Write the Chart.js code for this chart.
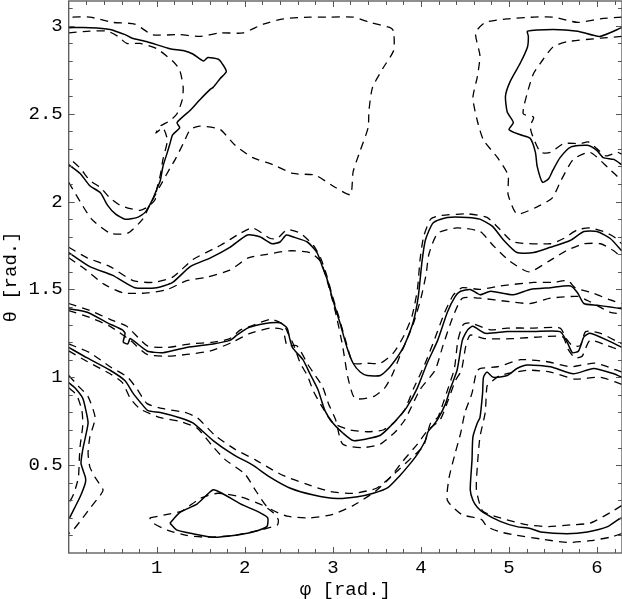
<!DOCTYPE html>
<html>
<head>
<meta charset="utf-8">
<script src="https://cdn.jsdelivr.net/npm/chart.js@4.4.0/dist/chart.umd.min.js"></script>
<style>
html,body{margin:0;padding:0;background:#fff;}
#wrap{width:622px;height:599px;}
</style>
</head>
<body>
<div id="wrap"><canvas id="c" width="622" height="599"></canvas></div>
<script>
// ---- axis ticks ----
const xTickValues = [1, 2, 3, 4, 5, 6];
const yTickValues = [0.5, 1, 1.5, 2, 2.5, 3];
const xTitle = "φ [rad.]";
const yTitle = "θ [rad.]";

// ---- contour curves [phi, theta] ----
// top-left blob (solid) and its dashed neighbours
const solidTopLeft = [[0.00,2.21],[0.13,2.16],[0.24,2.09],[0.36,2.05],[0.44,1.98],[0.53,1.93],[0.64,1.90],[0.78,1.91],[0.87,1.94],[0.95,2.01],[1.00,2.07],[1.04,2.12],[1.07,2.20],[1.12,2.28],[1.15,2.33],[1.18,2.38],[1.26,2.42],[1.23,2.45],[1.38,2.52],[1.49,2.58],[1.61,2.64],[1.64,2.65],[1.72,2.70],[1.79,2.74],[1.75,2.78],[1.70,2.81],[1.58,2.82],[1.53,2.80],[1.41,2.84],[1.30,2.86],[1.15,2.87],[0.89,2.91],[0.72,2.93],[0.64,2.95],[0.47,2.98],[0.24,2.99],[0.00,2.99]];
const dashInnerTopLeft = [[0.00,2.96],[0.24,2.97],[0.44,2.97],[0.56,2.94],[0.66,2.90],[0.81,2.90],[1.00,2.87],[1.18,2.80],[1.26,2.75],[1.30,2.65],[1.29,2.58],[1.23,2.50],[1.15,2.46],[1.04,2.43],[0.99,2.39],[1.07,2.42],[1.12,2.35],[1.07,2.24],[1.04,2.15],[1.00,2.07],[0.98,2.01],[0.90,1.97],[0.81,1.95],[0.70,1.96],[0.58,1.98],[0.47,2.02],[0.36,2.08],[0.24,2.12],[0.13,2.19],[0.00,2.25]];
const dashOuterTopLeft = [[0.00,2.11],[0.13,2.00],[0.26,1.90],[0.47,1.82],[0.67,1.82],[0.84,1.90],[0.92,1.98],[1.04,2.09],[1.15,2.19],[1.21,2.24],[1.31,2.34],[1.38,2.41],[1.49,2.43],[1.72,2.41],[1.89,2.32],[2.09,2.25],[2.32,2.21],[2.55,2.16],[2.80,2.15],[3.03,2.08],[3.20,2.04],[3.23,2.17],[3.31,2.29],[3.40,2.42],[3.41,2.52],[3.45,2.65],[3.57,2.76],[3.69,2.86],[3.69,2.97],[3.65,2.99],[3.42,3.02],[3.23,3.05],[2.97,3.05],[2.74,3.05],[2.44,3.04],[2.21,3.01],[1.98,2.96],[1.72,2.96],[1.49,2.94],[1.26,2.95],[0.95,2.95],[0.75,3.01],[0.50,3.02],[0.24,3.05],[0.00,3.05]];
// top-right blob
const solidTopRight = [[6.28,2.99],[6.03,2.94],[5.78,2.97],[5.50,2.98],[5.21,2.97],[5.22,2.94],[5.21,2.88],[5.13,2.79],[5.01,2.68],[4.96,2.60],[4.98,2.51],[5.05,2.45],[5.00,2.41],[5.13,2.38],[5.24,2.36],[5.30,2.28],[5.32,2.20],[5.38,2.11],[5.45,2.13],[5.50,2.18],[5.58,2.25],[5.70,2.31],[5.89,2.32],[6.00,2.29],[6.07,2.25],[6.19,2.24],[6.28,2.21]];
const dashInnerTopRight = [[6.28,2.94],[6.04,2.93],[5.66,2.91],[5.50,2.88],[5.36,2.79],[5.28,2.73],[5.22,2.64],[5.16,2.50],[5.28,2.48],[5.24,2.43],[5.27,2.37],[5.36,2.28],[5.47,2.28],[5.62,2.33],[5.81,2.33],[5.90,2.34],[6.00,2.30],[6.10,2.26],[6.23,2.28],[6.28,2.27]];
const dashOuterTopRight = [[6.28,3.05],[6.04,3.04],[5.78,3.02],[5.50,3.05],[5.28,3.05],[4.98,3.04],[4.73,3.02],[4.62,2.96],[4.67,2.83],[4.64,2.71],[4.59,2.59],[4.64,2.46],[4.71,2.35],[4.87,2.25],[4.99,2.15],[4.99,2.04],[5.09,1.93],[5.32,1.97],[5.49,2.02],[5.59,2.12],[5.73,2.24],[5.92,2.28],[6.13,2.19],[6.28,2.12]];
// upper band
const solidUpperBand = [[0.00,1.71],[0.24,1.63],[0.50,1.58],[0.75,1.51],[1.00,1.51],[1.18,1.54],[1.38,1.63],[1.61,1.68],[1.83,1.74],[2.03,1.81],[2.17,1.80],[2.31,1.76],[2.40,1.77],[2.47,1.81],[2.54,1.80],[2.71,1.77],[2.82,1.71],[2.88,1.63],[2.94,1.55],[3.00,1.44],[3.08,1.31],[3.16,1.17],[3.23,1.08],[3.31,1.03],[3.39,1.01],[3.54,1.01],[3.65,1.06],[3.80,1.17],[3.91,1.31],[3.97,1.46],[4.01,1.65],[4.05,1.78],[4.14,1.88],[4.30,1.91],[4.53,1.91],[4.67,1.90],[4.81,1.86],[4.94,1.78],[5.09,1.71],[5.28,1.71],[5.47,1.74],[5.70,1.78],[5.85,1.83],[6.00,1.83],[6.15,1.79],[6.28,1.72]];
const dashUpperBandA = [[0.00,1.74],[0.21,1.68],[0.47,1.63],[0.73,1.55],[0.96,1.54],[1.18,1.57],[1.41,1.67],[1.72,1.75],[1.95,1.82],[2.09,1.85],[2.29,1.79],[2.37,1.79],[2.48,1.84],[2.63,1.82],[2.78,1.75],[2.86,1.68],[2.93,1.58],[2.99,1.47],[3.07,1.34],[3.15,1.20],[3.23,1.08],[3.39,1.08],[3.54,1.08],[3.69,1.14],[3.81,1.24],[3.90,1.35],[3.96,1.50],[3.99,1.67],[4.03,1.80],[4.11,1.90],[4.22,1.92],[4.53,1.93],[4.75,1.91],[4.90,1.84],[5.05,1.77],[5.47,1.76],[5.62,1.79],[5.78,1.84],[5.92,1.85],[6.07,1.83],[6.19,1.80],[6.28,1.76]];
const dashUpperBandB = [[0.00,1.68],[0.20,1.61],[0.40,1.53],[0.62,1.48],[0.89,1.48],[1.12,1.50],[1.34,1.55],[1.57,1.57],[1.83,1.61],[2.04,1.68],[2.25,1.70],[2.51,1.72],[2.74,1.71],[2.86,1.66],[2.94,1.54],[3.03,1.37],[3.11,1.18],[3.17,1.00],[3.25,0.88],[3.46,0.89],[3.59,0.94],[3.67,1.01],[3.76,1.12],[3.91,1.30],[4.00,1.45],[4.06,1.59],[4.09,1.70],[4.19,1.82],[4.41,1.85],[4.67,1.83],[4.82,1.75],[5.01,1.66],[5.23,1.60],[5.45,1.66],[5.65,1.72],[5.85,1.76],[6.04,1.76],[6.19,1.72],[6.28,1.68]];
// middle band
const solidMiddleBand = [[0.00,1.39],[0.21,1.37],[0.44,1.31],[0.61,1.27],[0.64,1.25],[0.62,1.20],[0.67,1.19],[0.70,1.22],[0.89,1.15],[1.07,1.14],[1.34,1.17],[1.64,1.19],[1.83,1.21],[1.91,1.24],[2.03,1.28],[2.17,1.30],[2.29,1.31],[2.40,1.31],[2.48,1.28],[2.51,1.22],[2.54,1.17],[2.59,1.14],[2.66,1.10],[2.74,1.02],[2.83,0.93],[2.91,0.81],[3.00,0.74],[3.12,0.68],[3.23,0.64],[3.39,0.65],[3.54,0.67],[3.65,0.72],[3.76,0.78],[3.84,0.83],[3.96,0.94],[4.07,1.08],[4.19,1.21],[4.30,1.37],[4.39,1.46],[4.45,1.49],[4.56,1.50],[4.67,1.47],[4.79,1.49],[5.05,1.47],[5.24,1.50],[5.47,1.51],[5.70,1.52],[5.78,1.48],[5.85,1.42],[6.00,1.41],[6.15,1.40],[6.28,1.39]];
const dashMiddleBandA = [[0.00,1.42],[0.24,1.38],[0.47,1.33],[0.66,1.29],[0.89,1.18],[1.12,1.17],[1.38,1.19],[1.64,1.20],[1.83,1.22],[1.95,1.27],[2.06,1.29],[2.29,1.33],[2.44,1.30],[2.50,1.24],[2.55,1.19],[2.63,1.08],[2.71,1.01],[2.78,0.92],[2.88,0.83],[3.00,0.74],[3.20,0.70],[3.39,0.69],[3.57,0.70],[3.69,0.74],[3.81,0.81],[3.92,0.94],[4.04,1.07],[4.15,1.21],[4.27,1.37],[4.37,1.47],[4.47,1.51],[4.67,1.50],[4.90,1.52],[5.28,1.54],[5.50,1.54],[5.67,1.55],[5.75,1.51],[5.95,1.48],[6.15,1.44],[6.28,1.42]];
const dashMiddleBandB = [[0.00,1.38],[0.24,1.34],[0.47,1.29],[0.70,1.21],[0.89,1.13],[1.12,1.12],[1.34,1.13],[1.61,1.15],[1.86,1.20],[2.06,1.25],[2.29,1.28],[2.43,1.27],[2.48,1.18],[2.59,1.18],[2.72,1.07],[2.80,1.01],[2.88,0.95],[2.95,0.85],[3.03,0.76],[3.11,0.62],[3.34,0.60],[3.54,0.62],[3.71,0.69],[3.82,0.76],[3.99,0.93],[4.16,1.04],[4.25,1.18],[4.36,1.34],[4.47,1.45],[4.67,1.45],[5.01,1.43],[5.24,1.42],[5.47,1.45],[5.78,1.46],[5.92,1.43],[6.15,1.37],[6.28,1.36]];
// lower band
const solidLowerBand = [[0.00,1.17],[0.21,1.11],[0.47,1.04],[0.64,0.98],[0.73,0.91],[0.81,0.86],[0.90,0.81],[1.04,0.80],[1.26,0.77],[1.41,0.74],[1.64,0.64],[1.87,0.56],[2.09,0.50],[2.29,0.43],[2.51,0.37],[2.78,0.33],[3.05,0.31],[3.28,0.32],[3.46,0.34],[3.62,0.37],[3.76,0.44],[3.88,0.51],[3.97,0.57],[4.05,0.64],[4.08,0.69],[4.13,0.72],[4.19,0.76],[4.28,0.85],[4.33,0.93],[4.41,1.04],[4.47,1.21],[4.53,1.27],[4.59,1.29],[4.73,1.25],[4.98,1.26],[5.28,1.26],[5.58,1.26],[5.66,1.20],[5.72,1.14],[5.79,1.15],[5.85,1.23],[5.92,1.25],[6.12,1.21],[6.28,1.17]];
const dashLowerBandA = [[0.00,1.19],[0.24,1.14],[0.47,1.06],[0.67,1.00],[0.78,0.93],[0.89,0.85],[1.09,0.82],[1.32,0.80],[1.46,0.77],[1.66,0.67],[1.89,0.59],[2.12,0.53],[2.29,0.48],[2.44,0.44],[2.71,0.39],[2.97,0.35],[3.23,0.34],[3.50,0.37],[3.76,0.48],[3.91,0.55],[4.03,0.61],[4.11,0.74],[4.19,0.77],[4.25,0.85],[4.31,0.94],[4.38,1.05],[4.42,1.21],[4.48,1.30],[4.56,1.31],[4.79,1.27],[4.98,1.28],[5.28,1.28],[5.58,1.28],[5.65,1.22],[5.72,1.18],[5.81,1.18],[5.87,1.26],[6.04,1.25],[6.28,1.19]];
const dashLowerBandB = [[0.00,1.15],[0.21,1.09],[0.47,1.02],[0.61,0.97],[0.70,0.88],[0.81,0.82],[1.04,0.77],[1.26,0.75],[1.46,0.71],[1.63,0.61],[1.78,0.53],[2.00,0.45],[2.13,0.35],[2.26,0.26],[2.48,0.21],[2.74,0.20],[3.00,0.22],[3.23,0.27],[3.48,0.35],[3.65,0.43],[3.79,0.52],[3.96,0.62],[4.08,0.70],[4.22,0.76],[4.31,0.87],[4.39,0.98],[4.46,1.04],[4.51,1.18],[4.56,1.24],[4.73,1.22],[5.04,1.22],[5.36,1.23],[5.61,1.23],[5.67,1.16],[5.75,1.11],[5.83,1.12],[5.92,1.21],[6.12,1.18],[6.28,1.15]];
// small island near the bottom
const solidIsland = [[1.15,0.17],[1.26,0.23],[1.46,0.28],[1.64,0.36],[1.74,0.34],[1.95,0.28],[2.17,0.23],[2.26,0.20],[2.25,0.15],[2.09,0.12],[1.87,0.10],[1.64,0.09],[1.41,0.11],[1.23,0.13],[1.15,0.17]];
const dashIsland = [[0.92,0.20],[1.12,0.22],[1.29,0.24],[1.49,0.31],[1.69,0.34],[1.95,0.32],[2.21,0.27],[2.32,0.23],[2.38,0.19],[2.37,0.16],[2.17,0.13],[1.87,0.10],[1.57,0.09],[1.34,0.10],[1.12,0.13],[0.96,0.17],[0.92,0.20]];
// bottom-left edge blob
const solidBottomLeft = [[0.00,0.97],[0.07,0.94],[0.16,0.88],[0.20,0.80],[0.22,0.74],[0.19,0.66],[0.16,0.59],[0.14,0.51],[0.19,0.43],[0.19,0.40],[0.13,0.32],[0.07,0.26],[0.01,0.20]];
const dashOuterBottomLeft = [[0.00,1.01],[0.11,0.95],[0.22,0.89],[0.30,0.77],[0.24,0.66],[0.22,0.57],[0.24,0.49],[0.30,0.43],[0.39,0.36],[0.36,0.33],[0.25,0.26],[0.16,0.20],[0.05,0.13],[0.00,0.11]];
const dashInnerBottomLeft = [[0.00,0.94],[0.09,0.90],[0.15,0.81],[0.16,0.73],[0.13,0.61],[0.12,0.53],[0.11,0.43],[0.06,0.34],[0.00,0.28]];
// bottom-right blob
const solidBottomRight = [[6.28,1.00],[6.19,1.02],[5.96,1.05],[5.73,1.02],[5.47,1.06],[5.21,1.07],[5.09,1.05],[4.98,1.01],[4.82,1.00],[4.75,1.03],[4.71,1.00],[4.70,0.91],[4.67,0.77],[4.64,0.74],[4.59,0.66],[4.58,0.53],[4.56,0.36],[4.59,0.30],[4.64,0.26],[4.71,0.23],[4.90,0.18],[5.09,0.15],[5.24,0.14],[5.36,0.12],[5.66,0.11],[5.89,0.12],[6.12,0.15],[6.24,0.19],[6.28,0.20]];
const dashInnerBottomRight = [[6.28,0.96],[6.04,1.00],[5.75,0.99],[5.47,1.03],[5.21,1.04],[4.90,1.01],[4.79,0.97],[4.75,0.95],[4.73,0.80],[4.67,0.66],[4.64,0.49],[4.63,0.36],[4.70,0.24],[4.90,0.20],[5.21,0.16],[5.45,0.15],[5.70,0.16],[5.92,0.17],[6.15,0.23],[6.28,0.27]];
const dashOuterBottomRight = [[6.28,1.03],[5.98,1.08],[5.70,1.06],[5.42,1.09],[5.13,1.10],[4.87,1.06],[4.67,1.05],[4.63,1.03],[4.58,0.91],[4.50,0.80],[4.45,0.68],[4.39,0.57],[4.32,0.43],[4.30,0.30],[4.46,0.22],[4.69,0.19],[4.75,0.15],[4.90,0.12],[5.09,0.10],[5.36,0.08],[5.66,0.06],[5.92,0.07],[6.15,0.09],[6.28,0.11]];

const solidCurves = [solidTopLeft, solidTopRight, solidUpperBand, solidMiddleBand, solidLowerBand, solidIsland, solidBottomLeft, solidBottomRight];
const dashedCurves = [dashInnerTopLeft, dashOuterTopLeft, dashInnerTopRight, dashOuterTopRight, dashUpperBandA, dashUpperBandB, dashMiddleBandA, dashMiddleBandB, dashLowerBandA, dashLowerBandB, dashIsland, dashOuterBottomLeft, dashInnerBottomLeft, dashInnerBottomRight, dashOuterBottomRight];

const toPts = arr => arr.map(p => ({x: p[0], y: p[1]}));
const datasets = [];
solidCurves.forEach(c => datasets.push({data: toPts(c), showLine: true, borderColor: '#000', borderWidth: 1.5, pointRadius: 0, tension: 0.2, fill: false}));
dashedCurves.forEach(c => datasets.push({data: toPts(c), showLine: true, borderColor: '#000', borderWidth: 1.3, borderDash: [8, 6], pointRadius: 0, tension: 0.2, fill: false}));

const FONT = "'Liberation Mono', 'DejaVu Sans Mono', monospace";

const frameTicks = {
  id: 'frameTicks',
  afterDraw(chart) {
    const {ctx, chartArea: a, scales: {x, y}} = chart;
    ctx.save();
    ctx.strokeStyle = '#555';
    ctx.lineWidth = 1;
    ctx.beginPath();
    for (let i = 1; i <= 31; i++) {
      const v = i * 0.2;
      if (v > x.max) break;
      const px = Math.round(x.getPixelForValue(v)) + 0.5;
      const len = (i % 5 === 0) ? 6 : 4;
      ctx.moveTo(px, a.bottom); ctx.lineTo(px, a.bottom - len);
      ctx.moveTo(px, a.top); ctx.lineTo(px, a.top + len);
    }
    for (let i = 1; i <= 31; i++) {
      const v = i * 0.1;
      if (v > y.max) break;
      const py = Math.round(y.getPixelForValue(v)) + 0.5;
      const len = (i % 5 === 0) ? 6 : 4;
      ctx.moveTo(a.left, py); ctx.lineTo(a.left + len, py);
      ctx.moveTo(a.right, py); ctx.lineTo(a.right - len, py);
    }
    ctx.stroke();
    ctx.lineWidth = 1.3;
    ctx.strokeRect(a.left, a.top, a.right - a.left, a.bottom - a.top);
    ctx.restore();
  }
};

new Chart(document.getElementById('c'), {
  type: 'scatter',
  data: {datasets},
  options: {
    responsive: false,
    animation: false,
    devicePixelRatio: 1,
    layout: {padding: {top: 1, right: 0, left: 0, bottom: 0}},
    plugins: {legend: {display: false}, tooltip: {enabled: false}},
    scales: {
      x: {
        type: 'linear', min: 0, max: 2 * Math.PI,
        grid: {display: false, drawTicks: false},
        border: {display: false},
        afterBuildTicks: s => { s.ticks = xTickValues.map(v => ({value: v})); },
        afterFit: s => { s.height = 46; s.paddingLeft = 0; s.paddingRight = 0; },
        ticks: {color: '#000', font: {family: FONT, size: 19}, padding: 4, maxRotation: 0, autoSkip: false, callback: v => String(v)},
        title: {display: true, text: xTitle, color: '#000', font: {family: FONT, size: 19}, padding: {top: 0, bottom: -2}}
      },
      y: {
        type: 'linear', min: 0, max: Math.PI,
        grid: {display: false, drawTicks: false},
        border: {display: false},
        afterBuildTicks: s => { s.ticks = yTickValues.map(v => ({value: v})); },
        afterFit: s => { s.width = 68.7; s.paddingTop = 0; s.paddingBottom = 0; },
        ticks: {color: '#000', font: {family: FONT, size: 19}, padding: 6, autoSkip: false, callback: v => String(v)},
        title: {display: true, text: yTitle, color: '#000', font: {family: FONT, size: 19}, padding: {top: 0, bottom: 0}}
      }
    }
  },
  plugins: [frameTicks]
});
</script>
</body>
</html>
